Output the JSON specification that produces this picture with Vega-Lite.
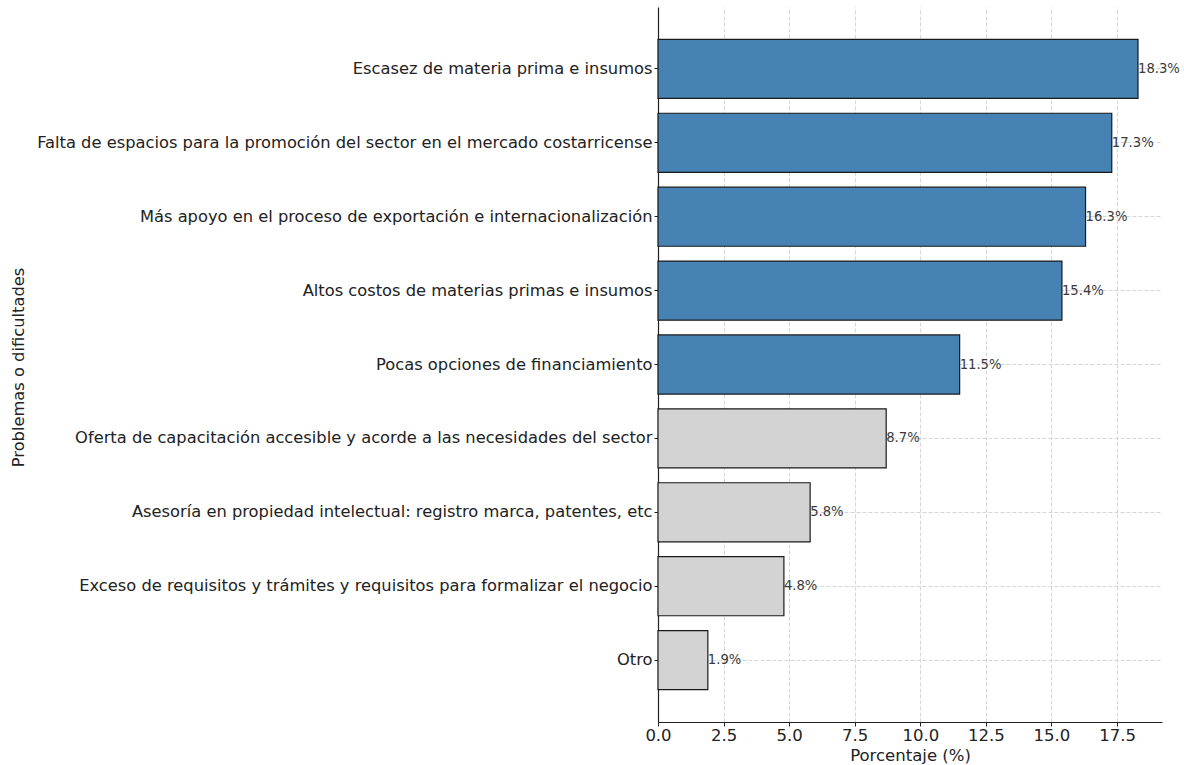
{
  "$schema": "https://vega.github.io/schema/vega-lite/v6.json",
  "autosize": {"type": "none"},
  "width": 504,
  "height": 715,
  "padding": {"left": 658, "top": 7, "right": 22, "bottom": 43},
  "background": "white",
  "config": {
    "font": "DejaVu Sans",
    "view": {"stroke": null},
    "axis": {"labelFont": "DejaVu Sans", "titleFont": "DejaVu Sans", "titleFontWeight": "normal"}
  },
  "data": {
    "values": [
      {"problema": "Escasez de materia prima e insumos", "porcentaje": 18.3, "etiqueta": "18.3%", "grupo": "principal"},
      {"problema": "Falta de espacios para la promoción del sector en el mercado costarricense", "porcentaje": 17.3, "etiqueta": "17.3%", "grupo": "principal"},
      {"problema": "Más apoyo en el proceso de exportación e internacionalización", "porcentaje": 16.3, "etiqueta": "16.3%", "grupo": "principal"},
      {"problema": "Altos costos de materias primas e insumos", "porcentaje": 15.4, "etiqueta": "15.4%", "grupo": "principal"},
      {"problema": "Pocas opciones de financiamiento ", "porcentaje": 11.5, "etiqueta": "11.5%", "grupo": "principal"},
      {"problema": "Oferta de capacitación accesible y acorde a las necesidades del sector", "porcentaje": 8.7, "etiqueta": "8.7%", "grupo": "otros"},
      {"problema": "Asesoría en propiedad intelectual:  registro marca, patentes, etc", "porcentaje": 5.8, "etiqueta": "5.8%", "grupo": "otros"},
      {"problema": "Exceso de requisitos y trámites y requisitos para formalizar el negocio", "porcentaje": 4.8, "etiqueta": "4.8%", "grupo": "otros"},
      {"problema": "Otro", "porcentaje": 1.9, "etiqueta": "1.9%", "grupo": "otros"}
    ]
  },
  "encoding": {
    "y": {
      "field": "problema",
      "type": "nominal",
      "sort": null,
      "scale": {"paddingInner": 0.2, "paddingOuter": 0.4375},
      "axis": {
        "title": "Problemas o dificultades",
        "titleFontSize": 16.3,
        "titleColor": "#222",
        "titleX": -640,
        "titleY": 360,
        "titleAngle": -90,
        "titleAlign": "center",
        "titleBaseline": "middle",
        "labelFontSize": 16.3,
        "labelColor": "#222",
        "labelPadding": 2,
        "labelLimit": 700,
        "tickSize": 4,
        "tickColor": "#222",
        "bandPosition": 0.5,
        "domainColor": "#222",
        "domainWidth": 1.2,
        "grid": true,
        "gridColor": "#cccccc",
        "gridDash": [4, 2],
        "gridWidth": 0.8
      }
    },
    "x": {
      "field": "porcentaje",
      "type": "quantitative",
      "scale": {"domain": [0, 19.215], "nice": false, "zero": true},
      "axis": {
        "title": "Porcentaje (%)",
        "titleFontSize": 16.5,
        "titleColor": "#222",
        "titlePadding": 4,
        "labelFontSize": 16.5,
        "labelColor": "#222",
        "labelPadding": 1,
        "labelFlush": false,
        "format": ".1f",
        "values": [0, 2.5, 5, 7.5, 10, 12.5, 15, 17.5],
        "tickSize": 4,
        "tickColor": "#222",
        "domainColor": "#222",
        "domainWidth": 1.2,
        "grid": true,
        "gridColor": "#cccccc",
        "gridDash": [4, 2],
        "gridWidth": 0.8
      }
    }
  },
  "layer": [
    {
      "mark": {"type": "bar", "stroke": "#1a1a1a", "strokeWidth": 1.2},
      "encoding": {
        "color": {
          "field": "grupo",
          "type": "nominal",
          "scale": {"domain": ["principal", "otros"], "range": ["#4682B4", "#D3D3D3"]},
          "legend": null
        }
      }
    },
    {
      "mark": {"type": "text", "align": "left", "baseline": "middle", "dx": 0, "fontSize": 13.2, "color": "#3a3a3a"},
      "encoding": {
        "text": {"field": "etiqueta", "type": "nominal"}
      }
    }
  ]
}
